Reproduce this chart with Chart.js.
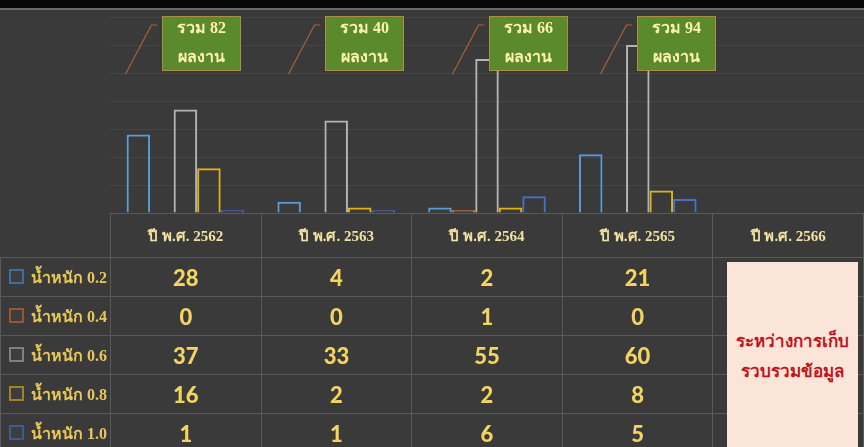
<!DOCTYPE html>
<html>
<head>
<meta charset="utf-8">
<script src="https://cdn.jsdelivr.net/npm/chart.js@4/dist/chart.umd.min.js"></script>
<style>
  html, body { margin: 0; padding: 0; }
  body { width: 864px; height: 447px; overflow: hidden; background: #3a3a3a; position: relative;
         font-family: "Liberation Serif", "Noto Sans", serif; }
  #topband { position: absolute; left: 0; top: 0; width: 864px; height: 8px; background: #060606; }
  #topline { position: absolute; left: 0; top: 8px; width: 864px; height: 2px; background: #6a6a6a; }
  #chartBox { position: absolute; left: 0; top: 0; width: 864px; height: 215px; }
  #tabla { position: absolute; left: 0; top: 213px; border-collapse: collapse; table-layout: fixed; width: 864px; }
  #tabla td { border: 1px solid #5a5a5a; padding: 0; text-align: center; }
  #tabla tr.head td { height: 43px; color: #f1e2a2; font-weight: bold; font-size: 15px; }
  #tabla tr.head td.blank { border: none; border-right: 1px solid #5a5a5a; }
  #tabla tr.fila td { height: 38px; color: #f3d460; font-family: Lato, "Open Sans", sans-serif; font-weight: 900; font-size: 22px; }
  #tabla tr.fila td.leyenda { text-align: left; font-family: "Liberation Serif", "Noto Sans", serif; font-weight: bold; font-size: 16px; color: #e9c85a; white-space: nowrap; }
  .cuadro { display: inline-block; width: 11px; height: 11px; border: 2px solid; margin: 0 7px 0 8px; vertical-align: -1px; background: #3d3d3d; }
  #nota { position: absolute; left: 727px; top: 262px; width: 131px; height: 190px; background: #fbe4d8;
          color: #c0141c; font-weight: bold; font-size: 17px; line-height: 30px; text-align: center;
          display: flex; flex-direction: column; justify-content: center; box-sizing: border-box; }
</style>
</head>
<body>
<div id="chartBox"><canvas id="myChart" width="864" height="215"></canvas></div>
<div id="topband"></div>
<div id="topline"></div>
<table id="tabla"></table>
<div id="nota"></div>

<script>
const anios = ["ปี พ.ศ. 2562", "ปี พ.ศ. 2563", "ปี พ.ศ. 2564", "ปี พ.ศ. 2565", "ปี พ.ศ. 2566"];
const series = ["น้ำหนัก 0.2", "น้ำหนัก 0.4", "น้ำหนัก 0.6", "น้ำหนัก 0.8", "น้ำหนัก 1.0"];

const peso02 = [28, 4, 2, 21, null];
const peso04 = [0, 0, 1, 0, null];
const peso06 = [37, 33, 55, 60, null];
const peso08 = [16, 2, 2, 8, null];
const peso10 = [1, 1, 6, 5, null];

const colores = ["#5b9bd5", "#ed7d31", "#b4b4b4", "#e0b219", "#4472c4"];
const coloresCuadro = ["#3f6e9e", "#a0542c", "#808080", "#a08228", "#3a5a9a"];
const notaTexto = ["ระหว่างการเก็บ", "รวบรวมข้อมูล"];

// desplazamiento de cada cuadro verde respecto al centro de la categoria (px)
const desplazaCuadro = [-23, -11, 2, -1];

const valores = [peso02, peso04, peso06, peso08, peso10];

// totales por año para los cuadros "รวม .. ผลงาน"
const totales = anios.map((a, i) => {
  if (valores.every(v => v[i] === null)) return null;
  return valores.reduce((s, v) => s + (v[i] || 0), 0);
});

const cuadrosPlugin = {
  id: 'cuadros',
  afterDatasetsDraw(chart) {
    const c = chart.ctx;
    const x = chart.scales.x;
    totales.forEach((t, i) => {
      if (t === null) return;
      const izq = Math.round(x.getPixelForValue(i) + desplazaCuadro[i]) + 0.5;
      const arriba = 16.5, ancho = 78, alto = 54;
      // linea guia
      c.save();
      c.strokeStyle = "#a8623a";
      c.lineWidth = 1.2;
      c.beginPath();
      c.moveTo(izq - 37, 74);
      c.lineTo(izq - 11, 25);
      c.lineTo(izq - 5, 25);
      c.stroke();
      // cuadro
      c.fillStyle = "#5a8a2c";
      c.fillRect(izq, arriba, ancho, alto);
      c.strokeStyle = "#a89040";
      c.lineWidth = 1;
      c.strokeRect(izq, arriba, ancho, alto);
      c.fillStyle = "#fff1b0";
      c.font = 'bold 16px "Liberation Serif", "Noto Sans", serif';
      c.textAlign = "center";
      c.textBaseline = "middle";
      c.fillText("รวม " + t, izq + ancho / 2, arriba + 12);
      c.fillText("ผลงาน", izq + ancho / 2, arriba + 41);
      c.restore();
    });
  }
};

const ctx = document.getElementById('myChart');

new Chart(ctx, {
  type: 'bar',
  data: {
    labels: anios,
    datasets: series.map((s, k) => ({
      label: s,
      data: valores[k],
      backgroundColor: 'transparent',
      borderColor: colores[k],
      borderWidth: 2,
      borderSkipped: 'bottom'
    }))
  },
  options: {
    responsive: false,
    animation: false,
    layout: { padding: { left: 110, top: 17, right: 0, bottom: 2 } },
    categoryPercentage: 0.78,
    barPercentage: 1,
    plugins: {
      legend: { display: false },
      tooltip: { enabled: false }
    },
    scales: {
      x: {
        ticks: { display: false },
        grid: { display: false, drawTicks: false },
        border: { color: '#6b6b6b', width: 1 }
      },
      y: {
        min: 0,
        max: 70,
        ticks: { display: false, stepSize: 10 },
        grid: { color: 'rgba(255,255,255,0.06)', drawTicks: false },
        border: { display: false }
      }
    }
  },
  plugins: [cuadrosPlugin]
});

// tabla de datos bajo el grafico
const tabla = document.getElementById('tabla');
let html = '<colgroup><col style="width:110px">' + anios.map(() => '<col>').join('') + '</colgroup>';
html += '<tr class="head"><td class="blank"></td>' + anios.map(a => '<td>' + a + '</td>').join('') + '</tr>';
series.forEach((s, k) => {
  html += '<tr class="fila"><td class="leyenda"><span class="cuadro" style="border-color:' + coloresCuadro[k] + '"></span>' + s + '</td>';
  html += valores[k].map(v => '<td>' + (v === null ? '' : v) + '</td>').join('') + '</tr>';
});
tabla.innerHTML = html;

document.getElementById('nota').innerHTML = notaTexto.map(t => '<div>' + t + '</div>').join('');
</script>
</body>
</html>
